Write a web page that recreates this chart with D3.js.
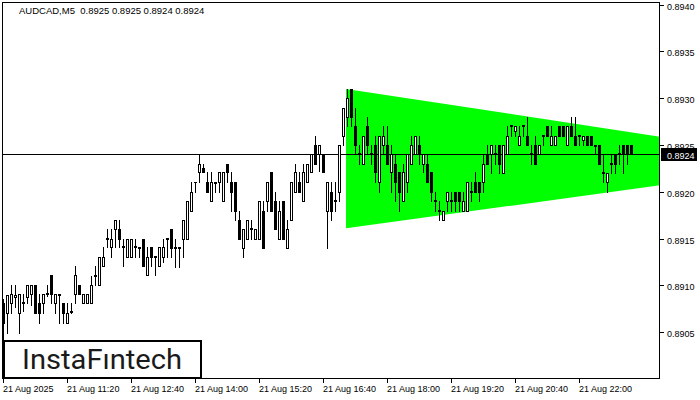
<!DOCTYPE html>
<html><head><meta charset="utf-8">
<script src="https://cdn.jsdelivr.net/npm/d3@7/dist/d3.min.js"></script>
<style>
html,body{margin:0;padding:0;background:#fff;}
svg{display:block;}
text{font-family:"Liberation Sans",Arial,sans-serif;}
</style>
</head><body>
<svg id="chart" width="700" height="400"></svg>
<script>
// ---- data ----
const symbolTitle = "AUDCAD,M5  0.8925 0.8925 0.8924 0.8924";
const opens = [0.89081,0.89070,0.89081,0.89088,0.89070,0.89081,0.89088,0.89091,0.89100,0.89081,
0.89081,0.89091,0.89111,0.89081,0.89090,0.89081,0.89060,0.89072,0.89091,0.89100,
0.89081,0.89081,0.89081,0.89110,0.89100,0.89121,0.89150,0.89141,0.89160,0.89160,
0.89141,0.89130,0.89130,0.89141,0.89141,0.89150,0.89111,0.89141,0.89130,0.89121,
0.89130,0.89150,0.89160,0.89140,0.89140,0.89150,0.89150,0.89180,0.89210,0.89221,
0.89225,0.89210,0.89190,0.89210,0.89210,0.89190,0.89230,0.89210,0.89210,0.89170,
0.89140,0.89150,0.89160,0.89150,0.89150,0.89180,0.89190,0.89221,0.89190,0.89150,
0.89190,0.89140,0.89170,0.89200,0.89210,0.89190,0.89210,0.89221,0.89250,0.89240,
0.89240,0.89180,0.89200,0.89190,0.89200,0.89260,0.89280,0.89310,0.89270,0.89240,
0.89230,0.89270,0.89241,0.89250,0.89210,0.89250,0.89250,0.89221,0.89230,0.89221,
0.89190,0.89210,0.89230,0.89240,0.89250,0.89230,0.89230,0.89221,0.89190,0.89180,
0.89170,0.89190,0.89190,0.89200,0.89200,0.89180,0.89180,0.89200,0.89210,0.89210,
0.89210,0.89240,0.89240,0.89240,0.89250,0.89220,0.89240,0.89270,0.89265,0.89250,
0.89270,0.89260,0.89241,0.89250,0.89240,0.89260,0.89270,0.89250,0.89250,0.89270,
0.89270,0.89250,0.89270,0.89260,0.89260,0.89255,0.89260,0.89260,0.89250,0.89250,
0.89220,0.89210,0.89230,0.89240,0.89240,0.89250,0.89250,0.89250];
const highs = [0.89085,0.89090,0.89100,0.89100,0.89091,0.89091,0.89100,0.89100,0.89100,0.89091,
0.89091,0.89100,0.89111,0.89091,0.89091,0.89081,0.89081,0.89081,0.89121,0.89100,
0.89091,0.89091,0.89110,0.89121,0.89130,0.89141,0.89160,0.89160,0.89170,0.89170,
0.89150,0.89150,0.89150,0.89150,0.89141,0.89150,0.89141,0.89141,0.89131,0.89141,
0.89150,0.89151,0.89160,0.89150,0.89141,0.89170,0.89190,0.89210,0.89211,0.89240,
0.89230,0.89221,0.89221,0.89210,0.89221,0.89221,0.89230,0.89221,0.89210,0.89180,
0.89160,0.89170,0.89170,0.89160,0.89190,0.89190,0.89210,0.89221,0.89200,0.89190,
0.89190,0.89170,0.89210,0.89230,0.89221,0.89230,0.89230,0.89240,0.89260,0.89250,
0.89240,0.89210,0.89210,0.89210,0.89250,0.89290,0.89310,0.89310,0.89290,0.89250,
0.89260,0.89280,0.89250,0.89260,0.89260,0.89270,0.89270,0.89250,0.89240,0.89221,
0.89230,0.89240,0.89260,0.89260,0.89260,0.89240,0.89240,0.89221,0.89200,0.89190,
0.89180,0.89200,0.89200,0.89200,0.89200,0.89200,0.89210,0.89210,0.89221,0.89210,
0.89240,0.89250,0.89250,0.89250,0.89250,0.89250,0.89270,0.89270,0.89270,0.89270,
0.89270,0.89280,0.89250,0.89260,0.89250,0.89260,0.89270,0.89270,0.89260,0.89270,
0.89270,0.89270,0.89280,0.89280,0.89260,0.89260,0.89260,0.89260,0.89250,0.89250,
0.89240,0.89220,0.89240,0.89240,0.89250,0.89250,0.89250,0.89250];
const lows = [0.89041,0.89049,0.89070,0.89077,0.89049,0.89073,0.89081,0.89079,0.89070,0.89060,
0.89070,0.89089,0.89081,0.89070,0.89060,0.89060,0.89060,0.89070,0.89081,0.89091,
0.89081,0.89081,0.89081,0.89100,0.89100,0.89121,0.89141,0.89130,0.89141,0.89141,
0.89121,0.89130,0.89130,0.89130,0.89130,0.89121,0.89111,0.89121,0.89111,0.89121,
0.89125,0.89130,0.89130,0.89120,0.89120,0.89130,0.89150,0.89180,0.89200,0.89210,
0.89221,0.89200,0.89190,0.89200,0.89200,0.89190,0.89210,0.89180,0.89170,0.89150,
0.89130,0.89150,0.89150,0.89150,0.89150,0.89140,0.89180,0.89180,0.89160,0.89150,
0.89150,0.89140,0.89170,0.89200,0.89200,0.89190,0.89210,0.89221,0.89230,0.89222,
0.89221,0.89140,0.89170,0.89180,0.89190,0.89250,0.89270,0.89270,0.89240,0.89230,
0.89230,0.89240,0.89230,0.89210,0.89200,0.89240,0.89230,0.89200,0.89190,0.89180,
0.89190,0.89200,0.89230,0.89240,0.89230,0.89221,0.89210,0.89190,0.89180,0.89170,
0.89170,0.89180,0.89180,0.89180,0.89180,0.89180,0.89180,0.89190,0.89200,0.89190,
0.89200,0.89230,0.89220,0.89230,0.89220,0.89220,0.89240,0.89260,0.89260,0.89250,
0.89260,0.89250,0.89230,0.89230,0.89240,0.89250,0.89260,0.89250,0.89250,0.89260,
0.89260,0.89250,0.89260,0.89250,0.89250,0.89250,0.89250,0.89250,0.89240,0.89230,
0.89210,0.89200,0.89220,0.89220,0.89230,0.89220,0.89230,0.89240];
const closes = [0.89060,0.89090,0.89091,0.89090,0.89091,0.89082,0.89100,0.89100,0.89070,0.89070,
0.89091,0.89092,0.89091,0.89091,0.89091,0.89070,0.89070,0.89073,0.89111,0.89091,
0.89091,0.89091,0.89100,0.89111,0.89130,0.89130,0.89151,0.89150,0.89170,0.89150,
0.89142,0.89150,0.89150,0.89142,0.89140,0.89121,0.89130,0.89130,0.89131,0.89141,
0.89141,0.89151,0.89140,0.89141,0.89141,0.89170,0.89190,0.89200,0.89211,0.89230,
0.89221,0.89200,0.89210,0.89209,0.89221,0.89221,0.89221,0.89200,0.89180,0.89150,
0.89160,0.89170,0.89161,0.89160,0.89190,0.89140,0.89210,0.89180,0.89160,0.89180,
0.89150,0.89160,0.89210,0.89221,0.89200,0.89221,0.89230,0.89240,0.89230,0.89250,
0.89221,0.89210,0.89180,0.89191,0.89250,0.89290,0.89300,0.89280,0.89250,0.89241,
0.89260,0.89250,0.89240,0.89221,0.89260,0.89260,0.89230,0.89240,0.89210,0.89200,
0.89221,0.89240,0.89250,0.89260,0.89240,0.89240,0.89210,0.89200,0.89191,0.89181,
0.89180,0.89200,0.89191,0.89190,0.89190,0.89190,0.89210,0.89201,0.89200,0.89200,
0.89230,0.89230,0.89250,0.89241,0.89230,0.89250,0.89260,0.89271,0.89270,0.89260,
0.89271,0.89250,0.89240,0.89230,0.89250,0.89261,0.89260,0.89260,0.89260,0.89260,
0.89260,0.89270,0.89260,0.89250,0.89261,0.89260,0.89250,0.89250,0.89249,0.89230,
0.89221,0.89220,0.89231,0.89230,0.89241,0.89240,0.89240,0.89240];
const currentPrice = 0.8924;
const priceTicks = [0.8905,0.8910,0.8915,0.8920,0.8925,0.8930,0.8935,0.8940];
const timeTickIndex = [0,16,32,48,64,80,96,112,128,144];
const timeTickLabels = ["21 Aug 2025","21 Aug 11:20","21 Aug 12:40","21 Aug 14:00","21 Aug 15:20","21 Aug 16:40","21 Aug 18:00","21 Aug 19:20","21 Aug 20:40","21 Aug 22:00"];
// symmetrical triangle pattern: [candle index, price]
const triangleUpper = [[85.75,0.89310],[164.25,0.89259]];
const triangleLower = [[85.75,0.89161],[164.25,0.89207]];
const logoText = "InstaF\u0131ntech";

// ---- layout ----
const svg = d3.select("#chart");
const plotL = 2, plotT = 2, plotR = 660, plotB = 379;
const x = d3.scaleLinear().domain([0,164.25]).range([3,660]);
const y = d3.scaleLinear().domain([0.8900,0.8940]).range([379,4.7]);

svg.append("rect").attr("width",700).attr("height",400).attr("fill","#fff");
svg.append("defs").append("clipPath").attr("id","clip")
  .append("rect").attr("x",plotL).attr("y",plotT).attr("width",plotR-plotL).attr("height",plotB-plotT);

const plot = svg.append("g").attr("clip-path","url(#clip)");

// triangle
const poly = [triangleUpper[0],triangleUpper[1],triangleLower[1],triangleLower[0]];
plot.append("polygon")
  .attr("points", poly.map(d=>[x(d[0]),y(d[1])].join(",")).join(" "))
  .attr("fill","#00ff00");

// current price line
plot.append("line").attr("x1",plotL).attr("x2",plotR)
  .attr("y1",Math.round(y(currentPrice))+0.5).attr("y2",Math.round(y(currentPrice))+0.5)
  .attr("stroke","#000").attr("stroke-width",1);

// candles
const candles = opens.map((o,i)=>({i,o,h:highs[i],l:lows[i],c:closes[i]}));
const cg = plot.append("g");
candles.forEach(d=>{
  const px = Math.round(x(d.i));
  const yh = Math.round(y(d.h)), yl = Math.round(y(d.l));
  const yt = Math.round(y(Math.max(d.o,d.c))), yb = Math.round(y(Math.min(d.o,d.c)));
  cg.append("line").attr("x1",px+0.5).attr("x2",px+0.5).attr("y1",yh).attr("y2",yl+1)
    .attr("stroke","#000").attr("stroke-width",1);
  if (yb - yt < 1) {
    cg.append("line").attr("x1",px-1).attr("x2",px+2).attr("y1",yt+0.5).attr("y2",yt+0.5)
      .attr("stroke","#000").attr("stroke-width",1);
  } else {
    cg.append("rect").attr("x",px-0.5).attr("y",yt+0.5).attr("width",2).attr("height",yb-yt)
      .attr("fill", d.c>=d.o ? "#fff" : "#000").attr("stroke","#000").attr("stroke-width",1);
  }
});

// frame
svg.append("rect").attr("x",plotL+0.5).attr("y",plotT+0.5).attr("width",plotR-plotL-1).attr("height",plotB-plotT-1)
  .attr("fill","none").attr("stroke","#000").attr("stroke-width",1);

// right axis
const ra = svg.append("g");
priceTicks.forEach(p=>{
  const yy = Math.round(y(p))+0.5;
  ra.append("line").attr("x1",plotR).attr("x2",plotR+4).attr("y1",yy).attr("y2",yy).attr("stroke","#000");
  ra.append("text").attr("x",plotR+7).attr("y",yy+4.5).attr("font-size",9).attr("fill","#000").text(p.toFixed(4));
});
// current price tag
const cy = Math.round(y(currentPrice));
svg.append("rect").attr("x",661).attr("y",cy-6).attr("width",36).attr("height",13).attr("fill","#000");
svg.append("text").attr("x",667).attr("y",cy+4.5).attr("font-size",9).attr("fill","#fff").text(currentPrice.toFixed(4));

// bottom axis
const ba = svg.append("g");
timeTickIndex.forEach((ti,k)=>{
  const xx = Math.round(x(ti))+0.5;
  ba.append("line").attr("x1",xx).attr("x2",xx).attr("y1",plotB).attr("y2",plotB+4).attr("stroke","#000");
  ba.append("text").attr("x",xx-0.5).attr("y",392).attr("font-size",9).attr("fill","#000").text(timeTickLabels[k]);
});

// title
svg.append("text").attr("x",19).attr("y",13.5).attr("font-size",9.5).attr("fill","#000")
  .attr("xml:space","preserve").style("white-space","pre").text(symbolTitle);

// logo
svg.append("rect").attr("x",4).attr("y",341).attr("width",197).attr("height",37)
  .attr("fill","#fff").attr("stroke","#000").attr("stroke-width",2);
svg.append("text").attr("x",22).attr("y",368.5).attr("font-size",27).attr("font-weight",400)
  .style("font-family","Roboto, 'Noto Sans', sans-serif").attr("fill","#1a1a1a")
  .attr("textLength",160).attr("lengthAdjust","spacingAndGlyphs").text(logoText);
</script>
</body></html>
